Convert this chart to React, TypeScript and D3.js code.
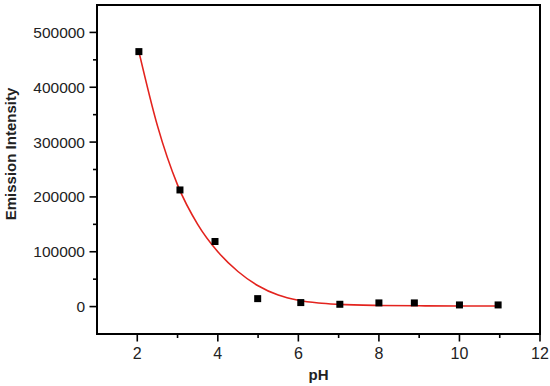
import * as d3 from 'd3';

// measured points
const phValues = [2.04, 3.06, 3.93, 4.99, 6.06, 7.03, 8.0, 8.88, 10.0, 10.96];
const intensities = [465000, 212700, 118700, 14500, 7300, 4200, 6700, 6700, 3000, 3000];

// fitted curve
const fitPh = [2.04, 2.5, 3.0, 3.5, 4.0, 4.5, 5.0, 5.5, 6.0, 6.5, 7.0, 8.0, 9.0, 10.0, 10.96];
const fitIntensity = [465000, 330000, 222000, 150000, 100000, 64000, 38000, 21000, 11500, 6500, 4000, 2000, 1400, 1100, 1000];

const xTicks = [2, 4, 6, 8, 10, 12];
const xMinorTicks = [3, 5, 7, 9, 11];
const yTicks = [0, 100000, 200000, 300000, 400000, 500000];
const yMinorTicks = [50000, 150000, 250000, 350000, 450000];

const width = 550;
const height = 386;
const margin = { left: 97, right: 10, top: 5, bottom: 52 };
const font = '"Liberation Sans", Arial, sans-serif';

export default function App() {
  const x = d3.scaleLinear().domain([1, 12]).range([margin.left, width - margin.right]);
  const y = d3.scaleLinear().domain([-50000, 550000]).range([height - margin.bottom, margin.top]);

  const fitLine = d3.line<number>()
    .x((_, i) => x(fitPh[i]))
    .y(d => y(d))
    .curve(d3.curveMonotoneX);

  const x0 = x.range()[0];
  const x1 = x.range()[1];
  const y0 = y.range()[0];
  const y1 = y.range()[1];

  return (
    <svg width={width} height={height} style={{ position: 'absolute', left: 0, top: 0, background: '#fff' }}
      fontFamily={font}>
      {/* fit curve */}
      <path d={fitLine(fitIntensity) ?? ''} fill="none" stroke="#e3231e" strokeWidth={1.6} />

      {/* data points */}
      {phValues.map((p, i) => (
        <rect key={i} x={x(p) - 3.5} y={y(intensities[i]) - 3.5} width={7} height={7} fill="#000" />
      ))}

      {/* frame */}
      <rect x={x0} y={y1} width={x1 - x0} height={y0 - y1} fill="none" stroke="#000" strokeWidth={2} />

      {/* y axis ticks */}
      {yTicks.map(t => (
        <g key={t}>
          <line x1={x0 - 7.5} x2={x0} y1={y(t)} y2={y(t)} stroke="#000" strokeWidth={1.6} />
          <text x={x0 - 12} y={y(t)} dy="0.36em" textAnchor="end" fontSize={15.5} fill="#222">{t}</text>
        </g>
      ))}
      {yMinorTicks.map(t => (
        <line key={t} x1={x0 - 4} x2={x0} y1={y(t)} y2={y(t)} stroke="#000" strokeWidth={1.6} />
      ))}

      {/* x axis ticks */}
      {xTicks.map(t => (
        <g key={t}>
          <line x1={x(t)} x2={x(t)} y1={y0} y2={y0 + 7.5} stroke="#000" strokeWidth={1.6} />
          <text x={x(t)} y={y0 + 24.5} textAnchor="middle" fontSize={16} fill="#222">{t}</text>
        </g>
      ))}
      {xMinorTicks.map(t => (
        <line key={t} x1={x(t)} x2={x(t)} y1={y0} y2={y0 + 4} stroke="#000" strokeWidth={1.6} />
      ))}

      {/* axis titles */}
      <text x={(x0 + x1) / 2} y={380} textAnchor="middle" fontSize={15} fontWeight="bold" fill="#222">pH</text>
      <text transform="translate(16,154) rotate(-90)" textAnchor="middle" fontSize={15} fontWeight="bold" fill="#222">
        Emission Intensity
      </text>
    </svg>
  );
}
